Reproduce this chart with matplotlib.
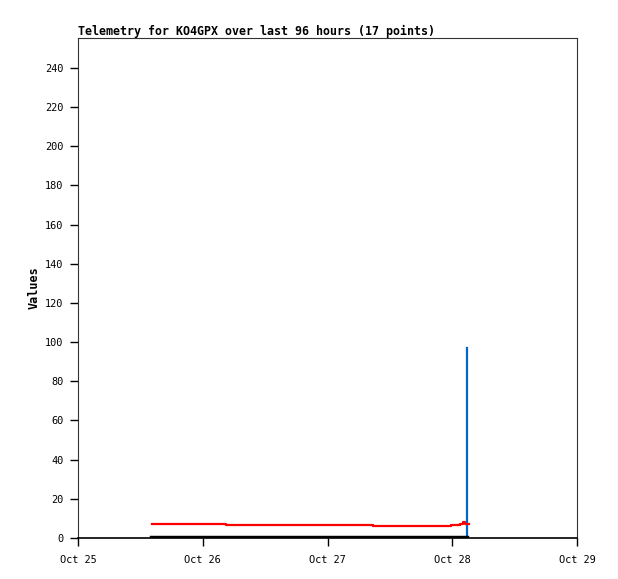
import datetime as dt
import matplotlib
matplotlib.use("Agg")
import matplotlib.pyplot as plt
import matplotlib.dates as mdates

# ---- data ----
base = dt.datetime(2023, 10, 25)
red_hours = [14.2, 20.0, 26.0, 28.5, 34.0, 42.0, 50.0, 56.8, 62.0, 68.0,
             71.8, 73.5, 74.1, 74.4, 74.6, 74.8, 75.2]
red_values = [6.9, 6.9, 6.9, 6.4, 6.4, 6.4, 6.4, 5.9, 5.9, 5.9,
              6.4, 6.9, 8.2, 6.9, 7.0, 6.9, 6.9]
blue_hours = [14.2, 28.5, 56.8, 71.8, 74.6, 74.8]
blue_values = [0, 0, 0, 0, 0, 97]
black_hours = [14.2, 28.5, 56.8, 71.8, 74.8]
black_values = [0, 0, 0, 0, 0]
xtick_days = [0, 1, 2, 3, 4]
yticks = list(range(0, 241, 20))
title = "Telemetry for KO4GPX over last 96 hours (17 points)"
ylabel = "Values"

def to_dates(hrs):
    return [base + dt.timedelta(hours=h) for h in hrs]

fig = plt.figure(figsize=(6.18, 5.79), dpi=100)
ax = fig.add_axes([78/618, 1-538/579, (577-78)/618, (538-38)/579])

mono = "DejaVu Sans Mono"
ax.plot(to_dates(red_hours), red_values, color="#ff0000", lw=1.6, drawstyle="steps-post", zorder=3)
ax.plot(to_dates(blue_hours), blue_values, color="#0066cc", lw=1.6, drawstyle="steps-post", zorder=2)
ax.plot(to_dates(black_hours), black_values, color="#000000", lw=3.2, zorder=4, clip_on=True)

ax.set_xlim(base, base + dt.timedelta(days=4))
ax.set_ylim(0, 255.3)
ax.set_xticks([base + dt.timedelta(days=d) for d in xtick_days])
ax.xaxis.set_major_formatter(mdates.DateFormatter("%b %d"))
ax.set_yticks(yticks)
for lab in ax.get_xticklabels() + ax.get_yticklabels():
    lab.set_fontfamily(mono)
    lab.set_fontsize(7.4)
ax.tick_params(axis="both", direction="out", length=5.5, width=1, color="black")
ax.tick_params(axis="x", pad=7)
ax.tick_params(axis="y", pad=5)
for s in ax.spines.values():
    s.set_color("#333333")
    s.set_linewidth(0.8)
ax.spines["bottom"].set_color("black")
ax.spines["bottom"].set_linewidth(1.2)
ax.set_ylabel(ylabel, fontfamily=mono, fontweight="bold", fontsize=8.5, labelpad=3)
ax.set_title(title, loc="left", fontfamily=mono, fontweight="bold", fontsize=8.4, pad=2)

fig.savefig("out.png", dpi=100)
